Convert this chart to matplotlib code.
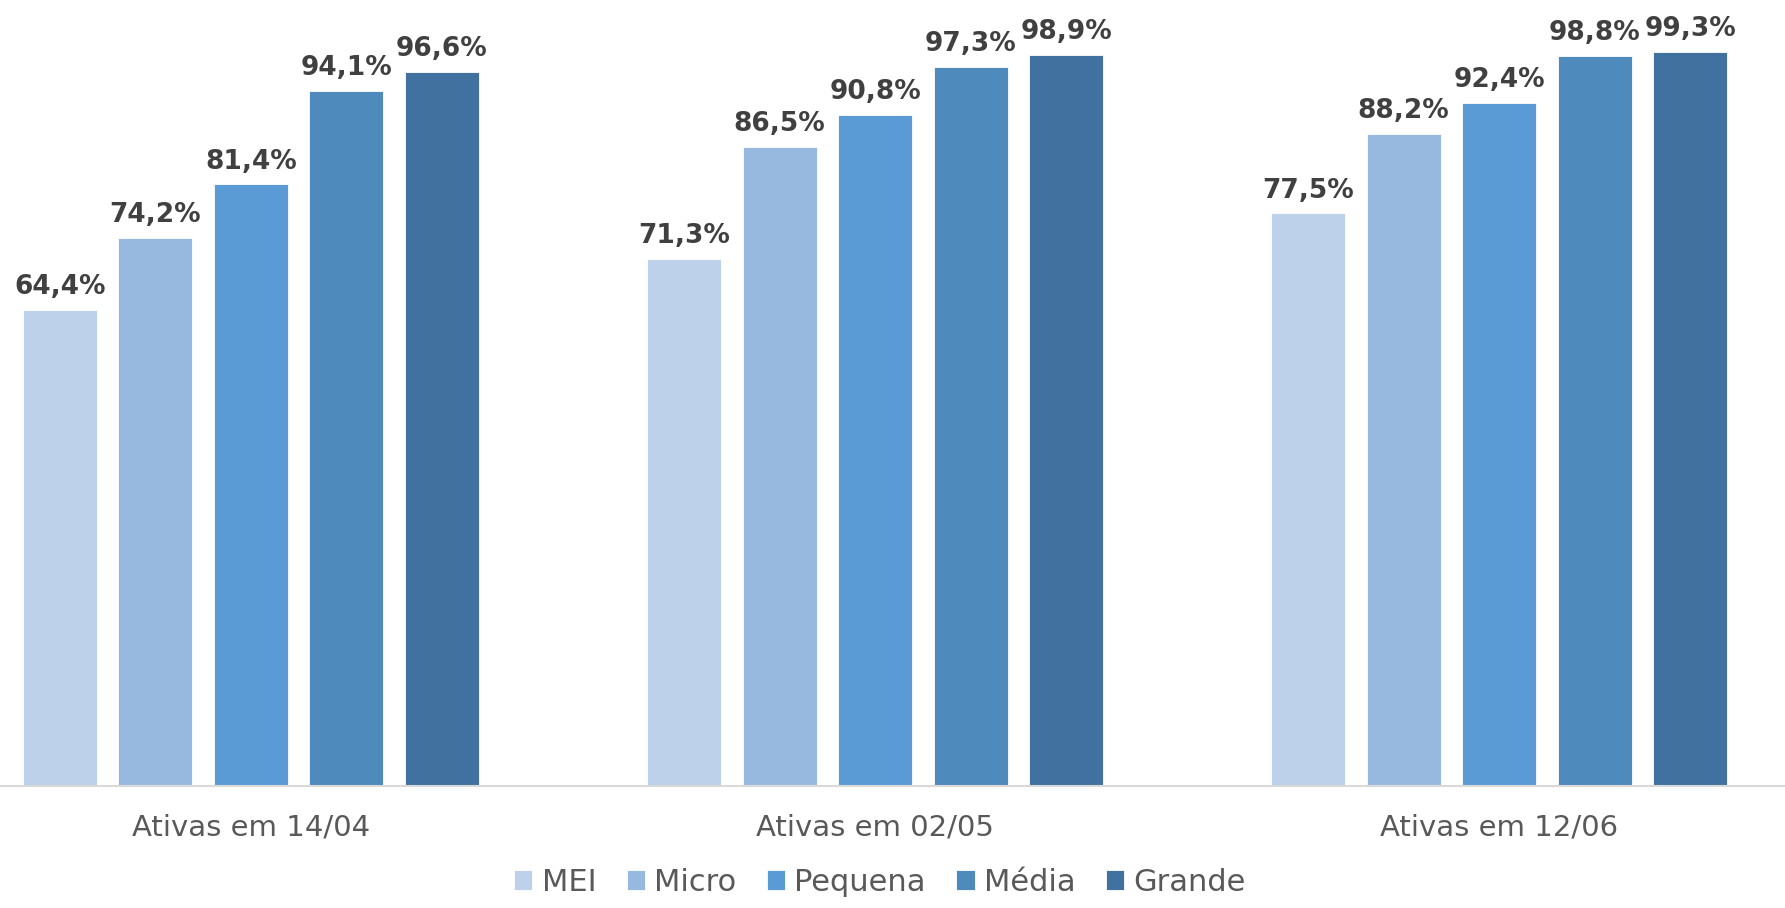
import matplotlib
matplotlib.use('Agg')
import matplotlib.pyplot as plt
import numpy as np

categories = ['Ativas em 14/04', 'Ativas em 02/05', 'Ativas em 12/06']
series = ['MEI', 'Micro', 'Pequena', 'Média', 'Grande']
mei = [64.4, 71.3, 77.5]
micro = [74.2, 86.5, 88.2]
pequena = [81.4, 90.8, 92.4]
media = [94.1, 97.3, 98.8]
grande = [96.6, 98.9, 99.3]
values = [mei, micro, pequena, media, grande]
colors = ['#BDD1EA', '#98B9DF', '#5B9BD5', '#4F8ABC', '#41729F']

plt.rcParams['font.family'] = ['DejaVu Sans']

fig = plt.figure(figsize=(17.85, 9.08), dpi=100)
ax = fig.add_axes([0, 0.1344, 1, 0.8545])

x = np.arange(len(categories))
pitch = 0.153
width = 0.1186

for i, (name, vals) in enumerate(zip(series, values)):
    pos = x + (i - 2) * pitch
    bars = ax.bar(pos, vals, width, color=colors[i], label=name,
                  edgecolor='white', linewidth=0.6)
    for b, v in zip(bars, vals):
        ax.annotate(f'{v:.1f}%'.replace('.', ','),
                    (b.get_x() + b.get_width() / 2, v),
                    xytext=(0, 7), textcoords='offset points',
                    ha='center', va='bottom', fontsize=19,
                    fontweight='bold', color='#404040')

ax.set_xlim(-0.402, 2.458)
ax.set_ylim(0, 105)
ax.set_xticks(x)
ax.set_xticklabels(categories, fontsize=21, color='#595959')
ax.tick_params(axis='x', length=0, pad=20)
ax.set_yticks([])
for s in ['top', 'left', 'right']:
    ax.spines[s].set_visible(False)
ax.spines['bottom'].set_color('#D9D9D9')
ax.spines['bottom'].set_linewidth(1.5)

fig.legend(loc='lower center', bbox_to_anchor=(0.493, -0.018), ncol=5,
           frameon=False, fontsize=22, handlelength=0.6, handleheight=0.6,
           handletextpad=0.3, columnspacing=1.0, labelcolor='#595959')

fig.savefig('out.png', dpi=100)
